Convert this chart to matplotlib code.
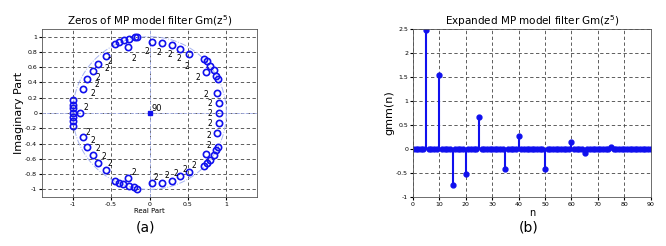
import numpy as np
from matplotlib import pyplot as plt

# zeros of Gm(z^5)
zr = [-0.45, -0.40, -0.33, -0.27, -0.19, -0.16, -0.28,
      -0.56, -0.67, -0.74, -0.82, -0.87,
      -0.99, -1.0, -1.0, -1.0, -1.0, -1.0, -0.99, -0.90,
      -0.87, -0.82, -0.74, -0.67, -0.56,
      -0.45, -0.40, -0.34, -0.27, -0.20, -0.16, -0.28,
      0.03, 0.16, 0.29, 0.40, 0.52,
      0.71, 0.75, 0.79, 0.84, 0.87, 0.89, 0.73,
      0.88, 0.91, 0.91, 0.91, 0.88,
      0.71, 0.75, 0.79, 0.84, 0.87, 0.89, 0.73,
      0.03, 0.16, 0.29, 0.40, 0.52]
zi = [0.90, 0.93, 0.95, 0.97, 0.995, 1.0, 0.86,
      0.75, 0.64, 0.55, 0.44, 0.32,
      0.17, 0.11, 0.06, 0.0, -0.05, -0.11, -0.17, 0.0,
      -0.31, -0.44, -0.55, -0.65, -0.74,
      -0.89, -0.91, -0.93, -0.96, -0.975, -0.99, -0.855,
      -0.92, -0.91, -0.89, -0.83, -0.77,
      -0.70, -0.66, -0.61, -0.55, -0.48, -0.44, -0.53,
      -0.26, -0.13, 0.0, 0.13, 0.26,
      0.71, 0.68, 0.62, 0.56, 0.49, 0.45, 0.535,
      0.93, 0.92, 0.89, 0.84, 0.77]

# multiplicity labels "2"
lx = [-0.21, -0.51, -0.56, -0.67, -0.68, -0.74, -0.83,
      -0.80, -0.74, -0.67, -0.59, -0.51, -0.21,
      0.08, 0.22, 0.34, 0.46, 0.58,
      0.77, 0.77, 0.79, 0.79, 0.79, 0.73, 0.63, 0.48, 0.38, 0.26, 0.12, -0.03]
ly = [0.72, 0.68, 0.58, 0.47, 0.37, 0.26, 0.07,
      -0.25, -0.36, -0.47, -0.57, -0.66, -0.78,
      -0.85, -0.82, -0.79, -0.74, -0.69,
      -0.43, -0.29, -0.14, 0.0, 0.13, 0.24, 0.46, 0.61, 0.72, 0.77, 0.79, 0.81]

# expanded filter coefficients, panel (b)
n = np.arange(0, 91)
gmm = np.zeros(91)
taps = [5, 10, 15, 20, 25, 35, 40, 50, 60, 65, 75]
vals = [2.48, 1.55, -0.75, -0.52, 0.67, -0.42, 0.28, -0.42, 0.15, -0.08, 0.04]
gmm[taps] = vals

blue = '#1010ee'
fig = plt.figure(figsize=(6.66, 2.46), dpi=100)

ax1 = fig.add_axes([0.063, 0.199, 0.323, 0.683])
t = np.linspace(0, 2 * np.pi, 400)
ax1.plot(np.cos(t), np.sin(t), '-.', color='#a8b4f0', lw=0.7)
ax1.axhline(0, color='#a8b4f0', ls='--', lw=0.6)
ax1.axvline(0, color='#a8b4f0', ls='--', lw=0.6)
ax1.plot(zr, zi, 'o', mfc='none', mec=blue, ms=4.5, mew=1.2)
ax1.plot([0], [0], 's', color=blue, ms=3)
ax1.text(0.03, 0.03, '90', fontsize=6)
for x, y in zip(lx, ly):
    ax1.text(x, y, '2', fontsize=5.5, ha='center', va='center')
ax1.set_xlim(-1.4, 1.4)
ax1.set_ylim(-1.1, 1.1)
ax1.set_xticks([-1, -0.5, 0, 0.5, 1])
ax1.set_xticklabels(['-1', '-0.5', '0', '0.5', '1'])
ax1.set_yticks(np.arange(-1, 1.01, 0.2))
ax1.set_yticklabels(['-1', '-0.8', '-0.6', '-0.4', '-0.2', '0', '0.2', '0.4', '0.6', '0.8', '1'])
ax1.grid(color='#444444', ls='--', lw=0.6, dashes=(4, 3))
ax1.tick_params(labelsize=4.5, length=2, pad=1.5)
ax1.set_xlabel('Real Part', fontsize=5, labelpad=1)
ax1.set_ylabel('Imaginary Part', fontsize=8, labelpad=1)
ax1.set_title('Zeros of MP model filter Gm(z$^5$)', fontsize=7.5, pad=3)
fig.text(0.218, 0.06, '(a)', ha='center', fontsize=10)

ax2 = fig.add_axes([0.620, 0.199, 0.357, 0.683])
ml, sl, bl = ax2.stem(n, gmm, basefmt='-')
plt.setp(ml, color=blue, ms=3.5)
plt.setp(sl, color=blue, lw=1.5)
plt.setp(bl, color=blue, lw=1.5)
ax2.set_xlim(0, 90)
ax2.set_ylim(-1, 2.5)
ax2.set_xticks(range(0, 91, 10))
ax2.set_yticks([-1, -0.5, 0, 0.5, 1, 1.5, 2, 2.5])
ax2.set_yticklabels(['-1', '-0.5', '0', '0.5', '1', '1.5', '2', '2.5'])
ax2.grid(color='#444444', ls='--', lw=0.6, dashes=(4, 3))
ax2.tick_params(labelsize=4.5, length=2, pad=1.5)
ax2.set_xlabel('n', fontsize=7, labelpad=1)
ax2.set_ylabel('gmm(n)', fontsize=8, labelpad=1)
ax2.set_title('Expanded MP model filter Gm(z$^5$)', fontsize=7.5, pad=3)
fig.text(0.793, 0.06, '(b)', ha='center', fontsize=10)

for ax in (ax1, ax2):
    for s in ax.spines.values():
        s.set_color('#555555')
        s.set_linewidth(0.6)

fig.savefig('out.png', dpi=100)
